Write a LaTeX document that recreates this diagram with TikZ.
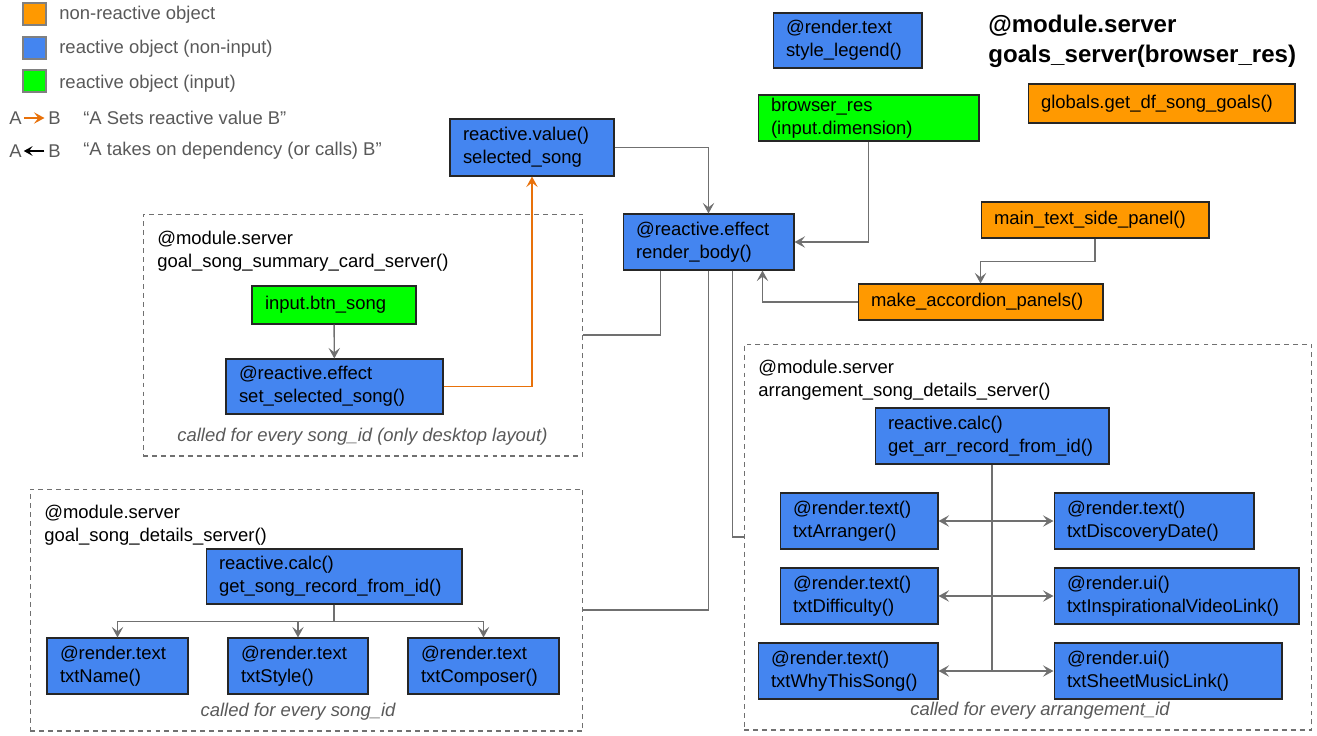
\documentclass[tikz,border=0pt]{standalone}
\usepackage{fontspec}
\setmainfont{Liberation Sans}
\usepackage{tikz}
\usetikzlibrary{arrows.meta, positioning, calc}
\definecolor{nonreact}{HTML}{FF9900}
\definecolor{react}{HTML}{4485F0}
\definecolor{inputc}{HTML}{00FF00}
\definecolor{setorange}{HTML}{E8710A}
\definecolor{linegray}{HTML}{707070}
\definecolor{txtgray}{HTML}{595959}
\newcommand{\objfont}{\fontsize{10.5}{13}\selectfont\hyphenpenalty=10000\relax}
\tikzstyle{obj}         = [draw=black!85, line width=0.6pt, rectangle, align=left, inner xsep=0.26cm, inner ysep=1pt, font=\objfont]
\tikzstyle{nonreactive} = [obj, fill=nonreact]
\tikzstyle{reactive}    = [obj, fill=react]
\tikzstyle{inputobj}    = [obj, fill=inputc]
\tikzstyle{module}      = [draw=linegray, dash pattern=on 2.8pt off 2.3pt, line width=0.6pt, rectangle, inner sep=0pt]
\tikzstyle{modlabel}    = [anchor=west, align=left, inner sep=0pt, font=\objfont]
\tikzstyle{note}        = [inner sep=0pt, font=\objfont\itshape, text=txtgray]
\tikzstyle{legbox}      = [draw=gray, line width=0.6pt, minimum width=0.46cm, minimum height=0.44cm, inner sep=0pt]
\tikzstyle{legtext}     = [anchor=west, inner sep=0pt, font=\objfont, text=txtgray]
\tikzstyle{plainline}   = [draw=linegray, line width=0.8pt]
\tikzstyle{deparrow}    = [plainline, -{Stealth[length=6pt, width=6.5pt, inset=2.5pt]}]
\tikzstyle{biarrow}     = [plainline, {Stealth[length=6pt, width=6.5pt, inset=2.5pt]}-{Stealth[length=6pt, width=6.5pt, inset=2.5pt]}]
\tikzstyle{setarrow}    = [draw=setorange, line width=0.8pt, -{Stealth[length=6pt, width=6.5pt, inset=2.5pt]}]

\begin{document}
\begin{tikzpicture}[x=0.02cm, y=-0.02cm]
\useasboundingbox (0,0) rectangle (1317,735);

% legend
\node [legbox, fill=nonreact] (keynon)   at (34.5,14) {};
\node [legbox, fill=react]    (keyreact) at (34.5,48) {};
\node [legbox, fill=inputc]   (keyinput) at (34.5,81) {};
\node [legtext] at (59,15) {non-reactive object};
\node [legtext] at (59,49) {reactive object (non-input)};
\node [legtext] at (59,84) {reactive object (input)};
\node [legtext] (seta) at (9,118)  {A};
\node [legtext] (setb) at (48,118) {B};
\node [legtext] at (83,118) {“A Sets reactive value B”};
\node [legtext] (depa) at (9,151)  {A};
\node [legtext] (depb) at (48,151) {B};
\node [legtext] at (83,151) {“A takes on dependency (or calls) B”};
\draw [setarrow, shorten <=1pt, shorten >=2pt] (seta) -- (setb);
\draw [black, line width=0.8pt, -{Stealth[length=5pt, width=5.5pt, inset=2pt]}, shorten <=2pt, shorten >=1pt] (depb) -- (depa);

% title
\node [anchor=west, align=left, inner sep=0pt, font=\fontsize{13.7}{17}\selectfont\bfseries] (title) at (988,41) {@module.server\\goals\_server(browser\_res)};

% modules
\node [module, minimum width=8.80cm,  minimum height=4.84cm] (cardmod) at (363,335)   {};
\node [module, minimum width=11.06cm, minimum height=4.84cm] (detmod)  at (306.5,610) {};
\node [module, minimum width=11.36cm, minimum height=7.72cm] (arrmod)  at (1028,537)  {};
\node [modlabel] at (157,251) {@module.server\\goal\_song\_summary\_card\_server()};
\node [modlabel] at (44,525)  {@module.server\\goal\_song\_details\_server()};
\node [modlabel] at (758,380) {@module.server\\arrangement\_song\_details\_server()};
\node [note] at (362.5,437) {called for every song\_id (only desktop layout)};
\node [note] at (298,712)   {called for every song\_id};
\node [note] at (1040,711)  {called for every arrangement\_id};

% nodes
\node [reactive, text width=2.46cm, minimum height=1.10cm]    (legend)  at (847.5,40.5)  {@render.text\\style\_legend()};
\node [nonreactive, text width=4.82cm, minimum height=0.78cm] (globals) at (1161.5,103.5) {globals.get\_df\_song\_goals()};
\node [inputobj, text width=3.90cm, minimum height=0.92cm]    (browser) at (868.5,118)   {browser\_res\\(input.dimension)};
\node [reactive, text width=2.76cm, minimum height=1.14cm]    (selsong) at (532,147.5)   {reactive.value()\\selected\_song};
\node [reactive, text width=2.90cm, minimum height=1.12cm]    (render)  at (708.5,242)   {@reactive.effect\\render\_body()};
\node [nonreactive, text width=4.04cm, minimum height=0.72cm] (sidepan) at (1095,220)    {main\_text\_side\_panel()};
\node [nonreactive, text width=4.38cm, minimum height=0.72cm] (accord)  at (980.5,302)   {make\_accordion\_panels()};

\node [inputobj, text width=2.76cm, minimum height=0.76cm]    (btnsong) at (334,305)     {input.btn\_song};
\node [reactive, text width=3.82cm, minimum height=1.10cm]    (setsel)  at (334.5,386.5) {@reactive.effect\\set\_selected\_song()};

\node [reactive, text width=4.60cm, minimum height=1.10cm]    (songrec) at (334,576.5)   {reactive.calc()\\get\_song\_record\_from\_id()};
\node [reactive, text width=2.30cm, minimum height=1.12cm]    (txtname) at (117.5,666)   {@render.text\\txtName()};
\node [reactive, text width=2.28cm, minimum height=1.12cm]    (txtstyle) at (298,666)    {@render.text\\txtStyle()};
\node [reactive, text width=2.50cm, minimum height=1.12cm]    (txtcomp) at (483.5,666)   {@render.text\\txtComposer()};

\node [reactive, text width=4.16cm, minimum height=1.12cm]    (arrrec)  at (992,436)     {reactive.calc()\\get\_arr\_record\_from\_id()};
\node [reactive, text width=2.64cm, minimum height=1.12cm]    (txtarr)  at (859,521)     {@render.text()\\txtArranger()};
\node [reactive, text width=2.64cm, minimum height=1.12cm]    (txtdiff) at (859,596)     {@render.text()\\txtDifficulty()};
\node [reactive, text width=3.08cm, minimum height=1.12cm]    (txtwhy)  at (848,671)     {@render.text()\\txtWhyThisSong()};
\node [reactive, text width=3.48cm, minimum height=1.12cm]    (txtdisc) at (1154,521)    {@render.text()\\txtDiscoveryDate()};
\node [reactive, text width=4.38cm, minimum height=1.12cm]    (txtinsp) at (1176.5,596)  {@render.ui()\\txtInspirationalVideoLink()};
\node [reactive, text width=4.04cm, minimum height=1.12cm]    (txtsheet) at (1168,671)   {@render.ui()\\txtSheetMusicLink()};

% edges
\draw [deparrow] (selsong) -| (render);
\draw [deparrow] (browser) |- (render);
\draw [deparrow] (sidepan.south) -- ++(0,23) -| (accord.north);
\draw [deparrow] (accord.west) -| ([xshift=1.08cm]render.south);
\draw [plainline] ([xshift=-0.96cm]render.south) |- (cardmod.east);
\draw [plainline] (render.south) |- (detmod.east);
\draw [plainline] ([xshift=0.48cm]render.south) |- (arrmod.west);

\draw [deparrow] (btnsong) -- (setsel);
\draw [setarrow] (setsel) -| (selsong);

\draw [deparrow] (songrec.south) -- ++(0,17) -| (txtname);
\draw [deparrow] (songrec.south) -- ++(0,17) -| (txtstyle);
\draw [deparrow] (songrec.south) -- ++(0,17) -| (txtcomp);

\draw [plainline] (arrrec.south) -- (arrrec.south |- txtwhy.east);
\draw [biarrow] (txtarr)  -- (txtdisc);
\draw [biarrow] (txtdiff) -- (txtinsp);
\draw [biarrow] (txtwhy)  -- (txtsheet);

\end{tikzpicture}
\end{document}
